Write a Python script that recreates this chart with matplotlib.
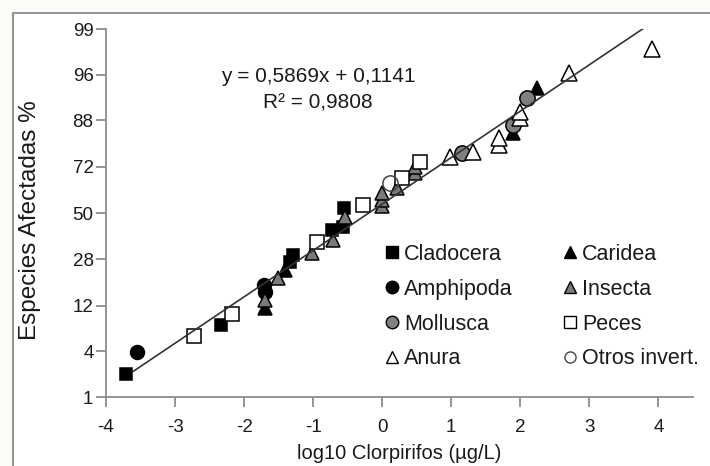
import numpy as np
import matplotlib
matplotlib.use("Agg")
import matplotlib.pyplot as plt
from matplotlib.patches import Rectangle
from matplotlib.lines import Line2D
from statistics import NormalDist

plt.rcParams['font.family'] = ['Liberation Sans', 'DejaVu Sans']

# ---------------- data ----------------
clad_x = [-3.71, -2.34, -1.34, -1.29, -0.73, -0.57, -0.56]
clad_p = [2.1, 7.8, 26.8, 29.8, 41.5, 43.0, 52.5]

amph_x = [-3.55, -1.71, -1.70]
amph_p = [3.9, 18.1, 15.9]

mollu_x = [1.15, 1.89, 2.09]
mollu_p = [77.6, 86.7, 92.7]

anura_x = [0.98, 1.31, 1.69, 1.69, 1.99, 1.99, 2.70, 3.90]
anura_p = [76.0, 78.0, 80.5, 82.8, 88.5, 89.9, 96.2, 98.1]

carid_x = [-1.70, -1.41, 1.89, 2.24]
carid_p = [11.5, 23.6, 84.4, 94.3]

insec_x = [-1.70, -1.51, -1.02, -0.72, -0.54, -0.01, -0.01, -0.01, 0.21, 0.47, 0.47]
insec_p = [13.6, 20.6, 30.6, 36.6, 48.0, 53.5, 56.5, 60.0, 62.4, 69.4, 72.0]

peces_x = [-2.73, -2.18, -0.95, -0.28, 0.28, 0.54]
peces_p = [6.0, 10.1, 35.7, 54.0, 67.1, 74.1]

otros_x = [0.11]
otros_p = [64.8]

slope, intercept = 0.5869, 0.1141
fit_x = [-3.62, 3.81]

x_ticks = [-4, -3, -2, -1, 0, 1, 2, 3, 4]
y_ticks = [1, 4, 12, 28, 50, 72, 88, 96, 99]

# ---------------- probit scale ----------------
_nd = NormalDist()
_ppf = np.vectorize(lambda q: _nd.inv_cdf(min(max(q, 1e-12), 1 - 1e-12)), otypes=[float])
_cdf = np.vectorize(lambda z: _nd.cdf(z), otypes=[float])

def fwd(p):
    return _ppf(np.asarray(p, dtype=float) / 100.0)

def inv(z):
    return _cdf(np.asarray(z, dtype=float)) * 100.0

# ---------------- figure ----------------
W, H = 710, 466
fig = plt.figure(figsize=(W / 100, H / 100), dpi=100)
fig.patch.set_facecolor('#fcfbf8')
frame = Rectangle((13 / W, -0.05), 1.2, (H - 13) / H + 0.05,
                  transform=fig.transFigure, facecolor='white',
                  edgecolor='#8a8a8a', linewidth=1.3, zorder=-10)
fig.patches.append(frame)

ax = fig.add_axes([106 / W, 69 / H, 587 / W, 368 / H])
ax.set_zorder(5)
ax.set_facecolor('none')
ax.set_yscale('function', functions=(fwd, inv))

ms = 10
ew = 1.1
ax.plot(clad_x, clad_p, ls='none', marker='s', ms=ms - 1, mfc='black', mec='black', mew=ew, zorder=4)
ax.plot(amph_x, amph_p, ls='none', marker='o', ms=ms, mfc='black', mec='black', mew=ew, zorder=4)
ax.plot(carid_x, carid_p, ls='none', marker='^', ms=ms, mfc='black', mec='black', mew=ew, zorder=4)
ax.plot(insec_x, insec_p, ls='none', marker='^', ms=ms, mfc='#7a7a7a', mec='black', mew=ew, zorder=4)
ax.plot(mollu_x, mollu_p, ls='none', marker='o', ms=ms + 1, mfc='#808080', mec='black', mew=ew, zorder=4)
ax.plot(peces_x, peces_p, ls='none', marker='s', ms=ms, mfc='white', mec='black', mew=ew, zorder=4)
ax.plot(anura_x, anura_p, ls='none', marker='^', ms=ms + 1, mfc='white', mec='black', mew=ew, zorder=4)
ax.plot(otros_x, otros_p, ls='none', marker='o', ms=ms + 1, mfc='none', mec='#444444', mew=ew, zorder=4)

fx = np.array(fit_x)
ax.plot(fx, inv(slope * fx + intercept), color='#333333', lw=1.2, zorder=5)

ax.set_xlim(-4, 4.5)
ax.set_ylim(1, 99)
ax.set_xticks(x_ticks)
ax.set_xticklabels([str(t) for t in x_ticks])
ax.set_yticks(y_ticks)
ax.set_yticklabels([str(t) for t in y_ticks])
ax.yaxis.set_minor_locator(matplotlib.ticker.NullLocator())
ax.xaxis.set_minor_locator(matplotlib.ticker.NullLocator())

for s in ['top', 'right']:
    ax.spines[s].set_visible(False)
for s in ['left', 'bottom']:
    ax.spines[s].set_color('#8c8c8c')
    ax.spines[s].set_linewidth(1.3)
ax.tick_params(axis='both', colors='#8c8c8c', labelcolor='#1a1a1a', labelsize=13.5,
               length=7, width=1.3)
ax.tick_params(axis='x', pad=9)
ax.tick_params(axis='y', pad=2)

ax.set_xlabel('log10 Clorpirifos (µg/L)', fontsize=14.5, color='#1a1a1a')
ax.xaxis.set_label_coords(0.5, (397 - 444) / 368)
ax.set_ylabel('Especies Afectadas %', fontsize=17.5, color='#1a1a1a')
ax.yaxis.set_label_coords((41 - 106) / 587, (397 - 220) / 368)

ax.text(0.361, 0.872, 'y = 0,5869x + 0,1141', transform=ax.transAxes,
        ha='center', va='center', fontsize=15, color='#1a1a1a')
ax.text(0.361, 0.800, 'R² = 0,9808', transform=ax.transAxes,
        ha='center', va='center', fontsize=15, color='#1a1a1a')

handles = [
    Line2D([], [], ls='none', marker='s', ms=8, mfc='black', mec='black'),
    Line2D([], [], ls='none', marker='o', ms=9, mfc='black', mec='black'),
    Line2D([], [], ls='none', marker='o', ms=9, mfc='#808080', mec='black'),
    Line2D([], [], ls='none', marker='^', ms=9, mfc='white', mec='black'),
    Line2D([], [], ls='none', marker='^', ms=9, mfc='black', mec='black'),
    Line2D([], [], ls='none', marker='^', ms=9, mfc='#7a7a7a', mec='black'),
    Line2D([], [], ls='none', marker='s', ms=8, mfc='white', mec='black'),
    Line2D([], [], ls='none', marker='o', ms=8, mfc='none', mec='#444444'),
]
labels = ['Cladocera', 'Amphipoda', 'Mollusca', 'Anura',
          'Caridea', 'Insecta', 'Peces', 'Otros invert.']
leg = ax.legend(handles, labels, ncol=2, loc='upper left',
                bbox_to_anchor=((386 - 106) / 587, (397 - 244) / 368),
                frameon=False, fontsize=15.5, handlelength=0.6, handletextpad=0.25,
                columnspacing=2.35, labelspacing=0.64, borderpad=0, borderaxespad=0)
for t in leg.get_texts():
    t.set_color('#1a1a1a')

fig.savefig('out.png', dpi=100, facecolor=fig.get_facecolor())
